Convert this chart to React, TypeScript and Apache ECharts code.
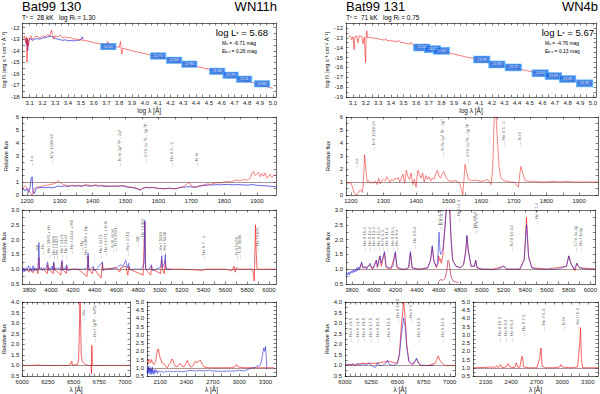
import React, { useEffect, useRef } from 'react';
import * as echarts from 'echarts';

const FONT = 'Liberation Sans, Arial, Helvetica, sans-serif';
const RED = '#f02020';
const BLUE = '#2424d8';

// ---------- SED panels (log lambda, log f) ----------
const sedXLabels = [3.1, 3.2, 3.3, 3.4, 3.5, 3.6, 3.7, 3.8, 3.9, 4.0, 4.1, 4.2, 4.3, 4.4, 4.5, 4.6, 4.7, 4.8, 4.9, 5.0];
const sedYLabelsL = [-12, -13, -14, -15, -16, -17, -18];
const sedYLabelsR = [-12, -13, -14, -15, -16, -17, -18, -19];

const sedModelL = [[3.05,-12.95],[3.06,-12.7],[3.07,-13.3],[3.075,-12.8],[3.08,-15.0],[3.085,-12.9],[3.09,-13.6],[3.1,-12.9],[3.11,-12.7],[3.12,-13.0],[3.14,-12.8],[3.16,-12.75],[3.18,-12.9],[3.2,-12.7],[3.22,-12.8],[3.24,-12.6],[3.26,-12.7],[3.27,-12.2],[3.28,-12.6],[3.29,-13.0],[3.3,-12.7],[3.32,-12.8],[3.34,-12.65],[3.36,-12.9],[3.38,-12.8],[3.4,-12.9],[3.42,-12.85],[3.44,-13.0],[3.46,-12.95],[3.48,-13.05],[3.5,-13.05],[3.55,-13.15],[3.6,-13.3],[3.65,-13.4],[3.7,-13.5],[3.71,-13.2],[3.72,-13.6],[3.75,-13.6],[3.8,-13.7],[3.81,-13.2],[3.82,-14.3],[3.83,-13.75],[3.85,-13.85],[3.9,-14.0],[4.0,-14.25],[4.1,-14.5],[4.2,-14.75],[4.3,-15.05],[4.4,-15.35],[4.5,-15.6],[4.6,-15.95],[4.7,-16.25],[4.8,-16.6],[4.9,-16.95],[5.0,-17.25]];
const sedObsL = [[3.07,-12.9],[3.075,-13.5],[3.08,-13.0],[3.085,-14.0],[3.09,-13.2],[3.1,-13.0],[3.11,-12.95],[3.12,-13.1],[3.14,-13.0],[3.16,-12.95],[3.18,-13.0],[3.2,-12.9],[3.22,-12.85],[3.24,-12.8],[3.26,-12.75],[3.28,-12.8],[3.3,-12.9],[3.32,-13.0],[3.34,-13.05],[3.36,-13.1],[3.38,-13.05],[3.4,-13.15],[3.42,-13.1],[3.44,-13.15],[3.46,-13.1],[3.48,-13.1],[3.5,-13.05],[3.51,-12.8],[3.52,-13.0]];
const sedModelR = [[3.066,-12.9],[3.08,-12.85],[3.09,-13.2],[3.1,-12.9],[3.11,-14.2],[3.115,-12.9],[3.13,-12.8],[3.14,-13.5],[3.15,-12.8],[3.17,-12.9],[3.18,-13.6],[3.19,-12.9],[3.2,-15.5],[3.205,-12.9],[3.21,-12.3],[3.215,-13.0],[3.23,-12.95],[3.25,-13.0],[3.3,-13.1],[3.35,-13.25],[3.36,-13.1],[3.37,-13.28],[3.4,-13.3],[3.45,-13.4],[3.46,-13.25],[3.47,-13.42],[3.5,-13.5],[3.55,-13.65],[3.56,-13.45],[3.57,-13.68],[3.6,-13.85],[3.65,-14.0],[3.67,-13.6],[3.68,-14.05],[3.7,-14.1],[3.75,-14.25],[3.8,-14.35],[3.85,-14.5],[3.9,-14.65],[4.0,-14.95],[4.1,-15.2],[4.2,-15.55],[4.3,-15.85],[4.4,-16.1],[4.5,-16.4],[4.6,-16.7],[4.7,-16.95],[4.8,-17.2],[4.9,-17.5],[5.0,-17.75]];

const photXL = [3.715, 4.104, 4.229, 4.348, 4.566, 4.67, 4.776, 4.916];
const photYL = [-13.64, -14.45, -14.82, -15.16, -15.78, -16.12, -16.46, -16.86];
const photMagL = ['12.60', '12.70', '12.66', '11.83', '11.48', '11.29', '11.11', '10.80'];
const photXR = [3.645, 3.73, 3.80, 4.12, 4.24, 4.37, 4.583, 4.687, 4.80, 4.935];
const photYR = [-13.98, -14.15, -14.32, -15.2, -15.7, -16.0, -16.6, -16.88, -17.18, -17.62];
const photMagR = ['14.04', '14.07', '14.02', '13.78', '13.84', '13.72', '13.54', '13.53', '13.49', '13.36'];

// ---------- UV panels ----------
const uvXLabels = [1200, 1300, 1400, 1500, 1600, 1700, 1800, 1900];
const uvYLabels = [0, 1, 2, 3, 4, 5, 6];
const uvModelL = [[1185,0.55],[1195,0.7],[1205,0.4],[1212,0.1],[1216,0.0],[1222,0.5],[1230,0.6],[1240,0.65],[1250,0.7],[1260,0.75],[1270,0.8],[1280,0.85],[1290,0.95],[1295,1.1],[1300,1.0],[1310,0.8],[1320,0.75],[1330,0.7],[1340,0.75],[1350,0.7],[1360,0.75],[1370,0.7],[1380,0.8],[1390,0.75],[1400,0.7],[1410,0.8],[1420,0.7],[1430,0.75],[1440,0.7],[1450,0.68],[1460,0.7],[1470,0.68],[1480,0.7],[1490,0.72],[1500,0.7],[1510,0.62],[1520,0.6],[1530,0.55],[1540,0.45],[1545,0.35],[1550,0.5],[1560,0.6],[1570,0.55],[1580,0.6],[1590,0.55],[1600,0.5],[1610,0.5],[1620,0.48],[1630,0.52],[1640,0.5],[1650,0.48],[1660,0.55],[1670,0.6],[1680,0.7],[1690,0.9],[1695,0.95],[1700,0.7],[1710,0.6],[1720,0.65],[1730,0.72],[1740,0.8],[1750,0.85],[1760,0.82],[1770,0.9],[1780,0.95],[1790,0.92],[1800,1.0],[1810,1.05],[1820,1.0],[1830,1.1],[1840,1.15],[1850,1.1],[1860,1.2],[1870,1.15],[1880,1.3],[1885,1.7],[1890,1.8],[1895,1.5],[1900,1.6],[1905,1.75],[1910,1.4],[1915,1.65],[1920,1.45],[1925,1.7],[1930,1.3],[1935,1.4],[1940,1.6],[1945,1.35],[1950,1.5],[1958,1.55]];
const uvObsL = [[1185,0.35],[1190,0.45],[1195,0.3],[1200,0.5],[1205,0.2],[1210,0.6],[1213,1.3],[1216,1.4],[1218,0.3],[1222,0.1],[1228,0.5],[1235,0.55],[1245,0.6],[1255,0.55],[1265,0.6],[1275,0.55],[1285,0.6],[1295,0.7],[1305,0.65],[1315,0.7],[1325,0.65],[1335,0.72],[1345,0.68],[1355,0.72],[1365,0.66],[1375,0.75],[1385,0.7],[1395,0.68],[1405,0.74],[1415,0.68],[1425,0.72],[1435,0.66],[1445,0.68],[1455,0.66],[1465,0.7],[1475,0.66],[1485,0.7],[1495,0.68],[1505,0.6],[1515,0.58],[1525,0.55],[1535,0.48],[1545,0.4],[1555,0.55],[1565,0.58],[1575,0.55],[1585,0.58],[1595,0.52],[1605,0.5],[1615,0.48],[1625,0.5],[1635,0.52],[1645,0.48],[1655,0.5],[1665,0.56],[1675,0.6],[1685,0.62],[1695,0.65],[1705,0.6],[1715,0.62],[1725,0.68],[1735,0.72],[1745,0.75],[1755,0.78],[1765,0.76],[1775,0.8],[1785,0.78],[1795,0.8],[1810,0.82],[1825,0.78],[1840,0.8],[1855,0.78],[1870,0.76],[1885,0.8],[1900,0.75],[1915,0.72],[1930,0.7],[1945,0.66],[1958,0.65]];
const uvModelR = [[1185,0.95],[1195,0.9],[1200,0.95],[1205,0.6],[1210,0.2],[1215,0.0],[1220,0.05],[1225,0.3],[1230,0.4],[1235,0.2],[1238,0.8],[1242,3.1],[1246,2.0],[1250,1.0],[1255,1.1],[1260,0.9],[1265,1.0],[1270,0.9],[1275,1.05],[1280,0.8],[1285,1.3],[1290,0.85],[1295,1.1],[1300,1.2],[1305,1.1],[1310,1.4],[1315,1.2],[1320,1.0],[1325,1.2],[1330,1.1],[1335,1.3],[1340,1.2],[1345,1.35],[1350,1.0],[1355,1.3],[1360,1.6],[1365,0.9],[1370,1.9],[1375,1.4],[1380,1.2],[1385,1.7],[1390,0.8],[1395,1.2],[1400,0.6],[1405,1.9],[1410,1.6],[1415,1.3],[1420,1.7],[1425,1.0],[1430,1.5],[1435,1.2],[1440,1.4],[1445,1.1],[1450,1.3],[1455,1.2],[1460,1.6],[1465,1.9],[1470,1.5],[1475,1.3],[1480,1.6],[1485,1.8],[1490,1.5],[1495,1.2],[1500,1.1],[1510,1.05],[1520,1.1],[1530,1.0],[1535,0.8],[1540,0.3],[1543,0.0],[1547,1.2],[1550,2.35],[1555,1.8],[1560,1.2],[1570,1.1],[1580,1.15],[1590,1.1],[1600,1.05],[1610,1.1],[1620,1.2],[1625,1.0],[1630,0.8],[1635,2.0],[1640,6.2],[1645,6.2],[1650,4.0],[1655,2.0],[1660,1.3],[1670,1.1],[1680,1.05],[1690,1.0],[1700,1.0],[1705,0.9],[1710,0.7],[1714,0.6],[1718,1.6],[1722,2.2],[1728,1.6],[1735,1.1],[1745,1.05],[1760,1.05],[1780,1.0],[1800,1.0],[1820,1.05],[1840,1.0],[1860,1.05],[1880,1.0],[1900,1.0],[1958,1.0]];

const uvLinesL = [[1213,2.2,'— Lα'],[1275,2.4,'— N V 1239,43'],[1483,2.2,'— N IV 2p² ³P - 2p³'],[1561,2.5,'— C IV 2s ²S - 2p ²P'],[1640,2.2,'— He II 3 - 2'],[1717,2.2,'— N IV']];
const uvLinesR = [[1216,2.0,'— Lα'],[1270,3.4,'— N V 1239,43'],[1482,3.0,'— N IV 2p² ³P - 2p³'],[1559,2.5,'— C IV 2s ²S - 2p ²P'],[1667,3.8,'— He II 3 - 2'],[1716,3.8,'— N IV']];

// ---------- optical panels ----------
const optXLabels = [3800, 4000, 4200, 4400, 4600, 4800, 5000, 5200, 5400, 5600, 5800, 6000];
const optYLabels = [0.5, 1.0, 1.5, 2.0, 2.5, 3.0];
const optModelL = [[3736,1.0],[3760,0.95],[3780,1.0],[3797,0.9],[3810,1.0],[3835,0.88],[3850,1.0],[3870,1.0],[3880,0.85],[3889,1.4],[3895,1.0],[3930,1.0],[3965,0.85],[3970,1.15],[3978,1.0],[4009,0.9],[4020,0.85],[4026,1.2],[4032,1.0],[4090,0.8],[4101,1.25],[4108,1.0],[4140,0.85],[4144,1.1],[4150,1.0],[4250,1.0],[4330,0.75],[4340,1.45],[4348,1.0],[4380,0.85],[4388,1.05],[4400,1.0],[4460,0.7],[4471,1.2],[4478,1.0],[4600,1.05],[4630,0.9],[4640,1.05],[4686,1.1],[4705,0.8],[4713,1.1],[4720,1.0],[4845,0.8],[4861,2.6],[4868,1.0],[4915,0.8],[4922,1.1],[4928,1.0],[5005,0.85],[5016,1.35],[5022,1.0],[5040,0.85],[5048,1.3],[5055,1.0],[5200,1.0],[5400,0.96],[5411,1.0],[5600,1.0],[5660,0.95],[5679,1.1],[5690,0.9],[5700,1.05],[5720,1.0],[5850,1.0],[5865,0.6],[5876,2.5],[5882,1.6],[5890,1.0],[6064,1.0]];
const optObsL = [[3736,1.0],[3742,0.9],[3750,1.05],[3758,0.92],[3770,1.05],[3780,0.95],[3790,1.1],[3797,1.12],[3805,0.95],[3815,1.05],[3825,0.93],[3835,1.12],[3842,0.95],[3850,1.05],[3860,0.95],[3870,1.03],[3880,0.97],[3889,1.9],[3895,1.0],[3910,1.05],[3920,0.95],[3935,1.05],[3950,0.97],[3970,1.25],[3975,0.95],[3990,1.05],[4000,0.98],[4009,1.1],[4015,0.98],[4026,1.25],[4030,0.95],[4045,1.05],[4060,1.0],[4070,1.05],[4085,0.97],[4101,1.3],[4106,0.95],[4120,1.05],[4130,0.98],[4144,1.15],[4150,0.95],[4200,1.0],[4250,1.0],[4300,1.0],[4335,1.05],[4340,1.55],[4346,0.95],[4388,1.1],[4395,0.95],[4420,1.0],[4471,1.25],[4476,0.95],[4500,1.0],[4540,1.0],[4600,1.05],[4620,1.1],[4640,1.15],[4660,1.1],[4686,1.3],[4700,1.05],[4713,1.2],[4720,1.0],[4780,1.0],[4830,1.0],[4855,1.2],[4861,2.65],[4867,1.0],[4900,1.0],[4922,1.15],[4928,0.95],[4960,1.0],[5000,1.05],[5010,1.2],[5016,1.45],[5022,1.05],[5040,1.2],[5048,1.5],[5055,1.0],[5100,1.0]];
const optModelR = [[3870,1.0],[3889,1.2],[3900,1.05],[3930,1.05],[3968,1.15],[3990,1.0],[4025,1.3],[4035,1.05],[4058,1.45],[4070,1.1],[4100,1.55],[4115,1.05],[4160,1.0],[4200,1.55],[4215,1.05],[4260,1.0],[4300,1.0],[4325,1.05],[4340,1.55],[4355,1.05],[4420,1.0],[4500,1.05],[4525,1.3],[4541,1.75],[4555,1.3],[4580,1.05],[4595,1.2],[4600,1.45],[4607,1.3],[4615,1.35],[4625,1.2],[4640,1.5],[4660,2.5],[4675,3.3],[4686,3.4],[4700,3.3],[4715,2.0],[4730,1.3],[4760,1.1],[4800,1.05],[4830,1.15],[4850,1.6],[4861,2.1],[4875,1.6],[4900,1.1],[4930,1.1],[4942,1.3],[4955,1.05],[5000,1.0],[5100,1.0],[5200,1.1],[5230,1.0],[5350,1.0],[5390,1.35],[5411,2.75],[5430,1.45],[5460,1.05],[5600,1.0],[5780,1.1],[5801,1.45],[5820,1.2],[5850,1.0],[5860,0.95],[5875,1.2],[5900,1.05],[6046,1.0]];
const optObsR = [[3745,0.8],[3752,0.88],[3760,0.82],[3768,0.9],[3775,0.8],[3783,0.92],[3790,0.86],[3800,0.95],[3808,0.88],[3815,0.98],[3822,0.9],[3830,1.0],[3838,0.92],[3845,1.05],[3852,0.95],[3860,1.08],[3868,0.97],[3875,1.08],[3889,1.25],[3900,1.05],[3920,1.1],[3935,1.0],[3950,1.1],[3968,1.2],[3980,1.05],[4000,1.05],[4025,1.3],[4035,1.1],[4058,1.45],[4070,1.2],[4100,1.6],[4115,1.1],[4150,1.05],[4180,1.1],[4200,1.6],[4215,1.1],[4250,1.0],[4300,1.0],[4320,1.05],[4340,1.6],[4355,1.05],[4400,1.0],[4450,1.0],[4500,1.05],[4525,1.3],[4541,1.8],[4555,1.3],[4575,1.1],[4590,1.2],[4604,2.25],[4612,1.6],[4620,1.5],[4640,1.7],[4660,2.5],[4675,3.2],[4686,3.3],[4700,3.2],[4715,2.0],[4730,1.3],[4760,1.1],[4800,1.05],[4830,1.15],[4850,1.6],[4861,2.15],[4875,1.6],[4900,1.1],[4930,1.1],[4942,1.3],[4955,1.05],[5000,1.0],[5050,1.0],[5100,0.98],[5150,1.0],[5200,1.1],[5230,1.0],[5300,1.0],[5350,1.0],[5390,1.3],[5411,2.5],[5430,1.4],[5460,1.05],[5500,1.0],[5600,1.0],[5700,1.0],[5780,1.1],[5801,1.45],[5820,1.2],[5850,1.0],[5875,1.2],[5900,1.05],[5950,1.0],[6000,1.0],[6046,1.0]];
const optInsetR = [[4600,0.6],[4620,0.65],[4640,0.62],[4660,0.7],[4675,0.95],[4686,1.3],[4695,1.25],[4705,1.0],[4715,0.75],[4730,0.62],[4750,0.58],[4780,0.55]];

const optLinesL = [[3880,1.45,'— H8'],[3925,1.5,'— Hε'],[3975,1.35,'— He I 3965 + Hε'],[4023,1.3,'— He I 4009'],[4050,1.3,'— He I 4026'],[4098,1.35,'— He I 4121'],[4130,1.35,'— He I 4144'],[4190,1.5,'— He I 4144 + Hδ'],[4280,1.6,'— Hγ'],[4320,1.3,'— He I 4388 + Hγ'],[4450,1.35,'— He I 4471'],[4500,1.4,'— He I 4471 + N III'],[4560,1.55,'— N III 4634'],[4590,1.6,'— N III 4641'],[4700,1.45,'— He I 4713'],[4790,1.75,'— Hβ'],[4840,1.9,'— He I 4922'],[5000,1.45,'— He I 5016'],[5040,1.45,'— He I 5048'],[5400,1.3,'— He II 7 - 4'],[5700,1.3,'— N II 5679'],[5730,1.35,'— C III 5696'],[5890,1.6,'— He I 5876']];
const optLinesR = [[3919,1.6,'— He II 15-4'],[3958,1.6,'— He II 14-4'],[4001,1.6,'— He II 13-4'],[4044,1.6,'— He II 12-4'],[4086,1.6,'— N IV 3-3'],[4122,1.6,'— He II 11-4'],[4171,1.6,'— He II 10-4'],[4213,1.6,'— He II 9-4'],[4375,1.7,'— He II 8-4'],[4604,2.3,'— N V 4-3'],[4629,2.3,'— N III 3-3'],[4780,2.6,'— He II 4-3'],[4932,2.2,'— He II 8-4'],[4947,2.2,'— N V 7-6'],[5273,1.6,'— N IV 10-13'],[5501,2.5,'— He II 7-4'],[5866,1.6,'— C IV 3s-3p'],[5912,1.6,'— He I 1s2p']];

// ---------- red optical panels ----------
const redXLabels = [6000, 6250, 6500, 6750, 7000];
const redYLabels = [0.5, 1.0, 1.5, 2.0, 2.5, 3.0, 3.5, 4.0];
const redModelL = [[6000,1.0],[6100,1.0],[6150,1.02],[6200,1.0],[6300,1.0],[6350,1.0],[6400,1.0],[6450,1.0],[6470,1.05],[6482,1.2],[6490,1.0],[6540,1.05],[6550,1.3],[6558,3.0],[6563,4.5],[6568,3.2],[6575,1.5],[6585,1.2],[6600,1.1],[6610,1.05],[6640,1.0],[6670,1.0],[6675,0.6],[6678,1.95],[6683,1.0],[6700,1.0],[6800,1.0],[6900,1.0],[7050,1.0]];
const redObsR = [[6000,1.05],[6020,1.0],[6040,1.05],[6060,1.0],[6075,1.08],[6090,1.0],[6110,1.0],[6125,1.1],[6140,1.0],[6160,1.05],[6175,1.1],[6190,1.0],[6210,1.05],[6233,1.12],[6250,1.0],[6270,0.95],[6285,0.88],[6300,1.0],[6310,1.15],[6325,1.0],[6360,1.0],[6390,1.1],[6406,1.25],[6420,1.05],[6460,1.0],[6500,1.1],[6520,1.5],[6540,2.5],[6560,3.25],[6575,2.8],[6590,1.8],[6610,1.2],[6640,1.05],[6660,1.1],[6683,1.35],[6700,1.1],[6730,1.0],[6780,1.0],[6830,1.0],[6850,1.0]];
const redModelR = [[6000,1.05],[6100,1.05],[6175,1.1],[6233,1.1],[6310,1.1],[6406,1.2],[6500,1.1],[6520,1.6],[6540,3.0],[6560,4.0],[6575,3.2],[6590,2.0],[6610,1.2],[6640,1.05],[6683,1.3],[6720,1.0],[6800,1.0],[6860,1.1],[6890,1.45],[6910,1.2],[6950,1.0],[7000,1.0],[7050,1.0]];
const redLinesL = [[6600,3.1,'— Hα'],[6700,2.1,'— He I 2p¹P - 3d¹D']];
const redLinesR = [[6052,2.1,'— He II 23-5'],[6118,2.1,'— He II 21-5'],[6176,2.1,'— He II 19-5'],[6242,2.1,'— He II 17-5'],[6314,2.1,'— He II 16-5'],[6412,2.1,'— He II 15-5'],[6503,3.0,'— He II 14-5'],[6624,3.0,'— He II 6-4'],[6706,2.1,'— He II 13-5'],[6935,2.1,'— He II 12-5']];

// ---------- near UV panels ----------
const nuvXLabels = [2100, 2400, 2700, 3000, 3300];
const nuvYLabels = [0.5, 1.0, 1.5, 2.0, 2.5, 3.0, 3.5, 4.0, 4.5, 5.0];
const nuvModelL = [[1950,1.45],[1960,1.3],[1970,1.5],[1980,1.4],[1990,1.3],[2000,1.5],[2010,1.35],[2020,1.25],[2030,1.2],[2040,1.3],[2050,1.4],[2060,1.8],[2070,2.1],[2080,2.15],[2090,1.8],[2100,1.6],[2110,1.5],[2120,1.3],[2140,1.25],[2160,1.1],[2180,1.0],[2200,1.2],[2220,1.3],[2230,1.5],[2245,1.5],[2260,1.2],[2280,1.05],[2300,1.1],[2320,1.25],[2340,1.2],[2360,1.05],[2380,1.1],[2400,1.35],[2410,1.45],[2420,1.3],[2440,1.1],[2460,1.05],[2480,1.15],[2500,1.4],[2520,1.3],[2540,1.4],[2560,1.45],[2580,1.2],[2600,1.05],[2650,1.0],[2700,1.0],[2750,1.0],[2800,1.0],[2850,1.0],[2900,1.0],[2950,1.05],[2970,1.2],[2990,1.05],[3050,1.0],[3100,1.0],[3200,1.0],[3300,1.0],[3400,1.0]];
const nuvObsL = [[1950,0.9],[1955,0.6],[1960,1.0],[1965,0.7],[1970,1.1],[1975,0.8],[1980,0.95],[1985,0.6],[1990,1.0],[1995,0.75],[2000,0.9],[2005,0.6],[2010,1.05],[2015,0.7],[2020,0.85],[2030,0.6],[2040,0.9],[2050,0.7],[2060,0.85],[2070,0.65],[2080,0.8],[2100,0.75],[2120,0.8],[2140,0.7],[2160,0.8],[2180,0.75],[2200,0.8],[2250,0.75],[2300,0.8],[2350,0.75],[2400,0.8],[2450,0.85],[2500,0.8],[2550,0.85],[2600,0.8],[2650,0.85],[2700,0.8],[2750,0.8],[2800,0.78],[2850,0.8],[2900,0.8],[2950,0.8],[3000,0.85],[3050,0.8],[3100,0.9],[3150,1.0],[3180,1.0],[3200,1.1],[3230,1.1],[3250,1.3],[3260,1.6],[3270,1.9],[3280,2.2],[3290,2.0],[3300,2.3],[3310,1.5],[3315,0.9]];
const nuvModelR = [[1950,1.0],[2100,1.02],[2150,1.05],[2170,1.0],[2190,1.08],[2200,1.0],[2230,1.12],[2245,1.0],[2260,1.1],[2275,1.2],[2290,1.0],[2340,1.05],[2360,1.25],[2380,1.05],[2440,1.0],[2460,1.3],[2475,1.05],[2500,1.0],[2520,1.6],[2530,1.7],[2545,1.05],[2600,1.0],[2700,1.0],[2735,1.6],[2750,2.2],[2762,1.1],[2800,1.0],[2900,1.0],[2970,1.05],[2985,1.2],[3000,1.05],[3100,1.0],[3180,1.05],[3205,2.5],[3215,3.45],[3225,1.5],[3240,1.0],[3300,1.0],[3420,1.0]];
const nuvLinesR = [[2258,2.6,'— He II 10-3'],[2334,2.6,'— He II 9-3'],[2403,2.6,'— He II 8-3'],[2546,2.9,'— He II 7-3'],[2784,3.25,'— He II 6-3'],[3019,3.25,'— N IV'],[3180,3.3,'— He II 5-3']];

const REF = 1.0;

function minorTicks(labels: number[], sub: number) {
  const out: number[] = [];
  for (let i = 0; i < labels.length; i++) {
    out.push(labels[i]);
    if (i < labels.length - 1) {
      const step = (labels[i + 1] - labels[i]) / sub;
      for (let k = 1; k < sub; k++) out.push(labels[i] + step * k);
    }
  }
  return out;
}

function buildOption() {
  const grid: any[] = [];
  const xAxis: any[] = [];
  const yAxis: any[] = [];
  const series: any[] = [];
  const lineAx = { show: true, onZero: false, lineStyle: { color: '#000', width: 0.6 } };
  const lbl = { fontSize: 6, color: '#222', fontFamily: FONT };

  function panel(p: any) {
    const gi = grid.length;
    grid.push({ left: p.l, top: p.t, width: p.w, height: p.h });
    const xt = minorTicks(p.xl, p.xs || 2);
    const yt = minorTicks(p.yl, p.ys || 2);
    const base = { type: 'value', gridIndex: gi, splitLine: { show: false }, axisLine: lineAx };
    xAxis.push({ ...base, min: p.x[0], max: p.x[1], position: 'bottom',
      axisTick: { show: true, inside: true, length: 2.5, customValues: xt, lineStyle: { color: '#000', width: 0.5 } },
      axisLabel: { show: true, customValues: p.xl, formatter: p.xf, margin: 3, ...lbl },
      name: p.xn || '', nameLocation: 'middle', nameGap: p.xng || 10, nameTextStyle: { fontSize: 6.5, color: '#111', fontFamily: FONT } });
    xAxis.push({ ...base, min: p.x[0], max: p.x[1], position: 'top',
      axisTick: { show: true, inside: true, length: 2.5, customValues: xt, lineStyle: { color: '#000', width: 0.5 } },
      axisLabel: { show: false } });
    yAxis.push({ ...base, min: p.y[0], max: p.y[1], position: 'left',
      axisTick: { show: true, inside: true, length: 2.5, customValues: yt, lineStyle: { color: '#000', width: 0.5 } },
      axisLabel: { show: true, customValues: p.yl, formatter: p.yf, margin: 3, ...lbl },
      name: p.yn || '', nameLocation: 'middle', nameGap: p.yng || 14, nameRotate: 90,
      nameTextStyle: { fontSize: 5.5, color: '#111', fontFamily: FONT } });
    yAxis.push({ ...base, min: p.y[0], max: p.y[1], position: 'right',
      axisTick: { show: true, inside: true, length: 2.5, customValues: yt, lineStyle: { color: '#000', width: 0.5 } },
      axisLabel: { show: false } });
    return 2 * gi;
  }

  const line = (ax: number, data: any[], color: string, opacity = 1, z = 2, ref = false) => {
    const s: any = { type: 'line', xAxisIndex: ax, yAxisIndex: ax, data, showSymbol: false, symbol: 'none',
      lineStyle: { color, width: 0.7, opacity }, z, clip: true, silent: true };
    if (ref) s.markLine = { silent: true, symbol: 'none', label: { show: false },
      lineStyle: { color: '#5a2a2a', width: 0.5, type: 'solid' }, data: [{ yAxis: REF }] };
    series.push(s);
  };
  const labels = (ax: number, data: any[]) => {
    series.push({ type: 'scatter', xAxisIndex: ax, yAxisIndex: ax, data, symbolSize: 0, z: 5, silent: true,
      label: { show: true, position: 'inside', rotate: 90, align: 'left', verticalAlign: 'middle',
        formatter: (p: any) => p.data[2], fontSize: 4.3, color: '#333', fontFamily: FONT } });
  };
  const phot = (ax: number, xs: number[], ys: number[], mags: string[], size: number[]) => {
    series.push({ type: 'scatter', xAxisIndex: ax, yAxisIndex: ax, symbol: 'rect', symbolSize: size, z: 6, silent: true,
      data: xs.map((x, i) => [x, ys[i], mags[i]]),
      itemStyle: { color: '#1a68e0', borderColor: '#4fb0ff', borderWidth: 0.8 },
      label: { show: true, position: 'inside', formatter: (p: any) => p.data[2], fontSize: 3.6, color: '#fff', fontFamily: FONT } });
  };
  const f1 = (v: number) => v.toFixed(1);
  const f0 = (v: number) => String(Math.round(v));

  const columns = [
    { L: 22, W: 254, sedY: [-18, -11.6], sedYL: sedYLabelsL, model: sedModelL, obs: sedObsL,
      px: photXL, py: photYL, pm: photMagL, psz: [15, 6.5], yng: 14,
      uvM: uvModelL, uvO: uvObsL, uvLines: uvLinesL,
      optM: optModelL, optO: optObsL, optLines: optLinesL, optX: [3736, 6064],
      rL: 22, rW: 108, rM: redModelL, rO: null, rLines: redLinesL,
      nL: 147, nW: 129, nM: nuvModelL, nO: nuvObsL, nLines: [] },
    { L: 346, W: 252, sedY: [-19, -11.5], sedYL: sedYLabelsR, model: sedModelR, obs: null,
      px: photXR, py: photYR, pm: photMagR, psz: [16, 7], yng: 16,
      uvM: uvModelR, uvO: null, uvLines: uvLinesR,
      optM: optModelR, optO: optObsR, optLines: optLinesR, optX: [3745, 6046],
      rL: 345, rW: 110, rM: redModelR, rO: redObsR, rLines: redLinesR,
      nL: 473, nW: 125, nM: nuvModelR, nO: null, nLines: nuvLinesR },
  ];

  columns.forEach((c: any, ci: number) => {
    let a = panel({ l: c.L, t: 23, w: c.W, h: 74, x: [3.045, 5.025], y: c.sedY, xl: sedXLabels, yl: c.sedYL,
      xf: f1, yf: f0, xn: 'log λ [Å]', xng: 10, yn: 'log fλ [erg s⁻¹ cm⁻² Å⁻¹]', yng: c.yng, ys: 2 });
    if (c.obs) line(a, c.obs, BLUE, 1, 2);
    line(a, c.model, RED, 0.85, 3);
    phot(a, c.px, c.py, c.pm, c.psz);

    a = panel({ l: c.L, t: 117, w: c.W, h: 78, x: [1185, 1958], y: [0, 6], xl: uvXLabels, yl: uvYLabels,
      xf: f0, yf: f0, yn: 'Relative flux', yng: c.yng - 1 });
    if (c.uvO) line(a, c.uvO, BLUE, 1, 2);
    line(a, c.uvM, RED, 0.8, 3, true);
    labels(a, c.uvLines);

    a = panel({ l: c.L, t: 210, w: c.W, h: 74, x: c.optX, y: [0.5, 3.0], xl: optXLabels, yl: optYLabels,
      xf: f0, yf: f1, yn: 'Relative flux', yng: c.yng - 1 });
    line(a, c.optM, RED, 1, 2, true);
    if (c.optO) line(a, c.optO, BLUE, 0.8, 3);
    if (ci === 1) line(a, optInsetR, '#b01030', 0.9, 3);
    labels(a, c.optLines);

    a = panel({ l: c.rL, t: 302, w: c.rW, h: 76, x: [6000, 7050], y: [0.5, 4.0], xl: redXLabels, yl: redYLabels,
      xf: f0, yf: f1, xn: 'λ [Å]', xng: 10, yn: 'Relative flux', yng: ci === 0 ? c.yng - 1 : 12, xs: 5 });
    line(a, c.rM, RED, 1, 2, true);
    if (c.rO) line(a, c.rO, BLUE, 0.8, 3);
    labels(a, c.rLines);

    a = panel({ l: c.nL, t: 302, w: c.nW, h: 76, x: [1950, 3420], y: [0.5, 5.0], xl: nuvXLabels, yl: nuvYLabels,
      xf: f0, yf: f1, xn: 'λ [Å]', xng: 10, xs: 3 });
    line(a, c.nM, RED, 1, 2, true);
    if (c.nO) line(a, c.nO, BLUE, 0.85, 3);
    labels(a, c.nLines);
  });

  const rich = { a: { fontSize: 6.5, lineHeight: 7, fontFamily: FONT, color: '#111' }, s: { fontSize: 4.5, lineHeight: 7, fontFamily: FONT, color: '#111', padding: [2, 0, 0, 0] } };
  const richBig = { a: { fontSize: 9.5, lineHeight: 10, fontFamily: FONT, color: '#111' }, s: { fontSize: 6, lineHeight: 10, fontFamily: FONT, color: '#111', padding: [3, 0, 0, 0] } };
  const richSm = { a: { fontSize: 5, lineHeight: 6, fontFamily: FONT, color: '#222' }, s: { fontSize: 3.5, lineHeight: 6, fontFamily: FONT, color: '#222', padding: [1.5, 0, 0, 0] } };
  const titleStyle = (t: string) => ({ text: t, fontSize: 13, lineHeight: 13, fontFamily: FONT, fill: '#000' });
  const graphic: any[] = [
    { type: 'text', left: 22, top: 0, style: titleStyle('Bat99 130') },
    { type: 'text', right: 600 - 277, top: 0, style: titleStyle('WN11h') },
    { type: 'text', left: 22, top: 14, style: { text: '{a|T}{s|*}{a| =  28 kK   log R}{s|t}{a| = 1.30}', rich } },
    { type: 'text', left: 346, top: 0, style: titleStyle('Bat99 131') },
    { type: 'text', right: 2, top: 0, style: titleStyle('WN4b') },
    { type: 'text', left: 346, top: 14, style: { text: '{a|T}{s|*}{a| =  71 kK   log R}{s|t}{a| = 0.75}', rich } },
    { type: 'text', right: 600 - 268, top: 27, style: { text: '{a|log L}{s|*}{a| = 5.68}', rich: richBig } },
    { type: 'text', left: 222, top: 40, style: { text: '{a|M}{s|v}{a| = -6.71 mag}', rich: richSm } },
    { type: 'text', left: 222, top: 48, style: { text: '{a|E}{s|b-v}{a| = 0.26 mag}', rich: richSm } },
    { type: 'text', right: 6, top: 27, style: { text: '{a|log L}{s|*}{a| = 5.67}', rich: richBig } },
    { type: 'text', left: 545, top: 40, style: { text: '{a|M}{s|v}{a| = -4.76 mag}', rich: richSm } },
    { type: 'text', left: 545, top: 48, style: { text: '{a|E}{s|b-v}{a| = 0.13 mag}', rich: richSm } },
  ];

  return { animation: false, backgroundColor: '#fff', grid, xAxis, yAxis, series, graphic };
}

export default function App() {
  const ref = useRef<HTMLDivElement>(null);
  useEffect(() => {
    if (!ref.current) return;
    const chart = echarts.init(ref.current, null as any, { renderer: 'svg' });
    chart.setOption(buildOption() as any);
    return () => chart.dispose();
  }, []);
  return <div ref={ref} style={{ position: 'absolute', left: 0, top: 0, width: 600, height: 394, background: '#fff' }} />;
}
